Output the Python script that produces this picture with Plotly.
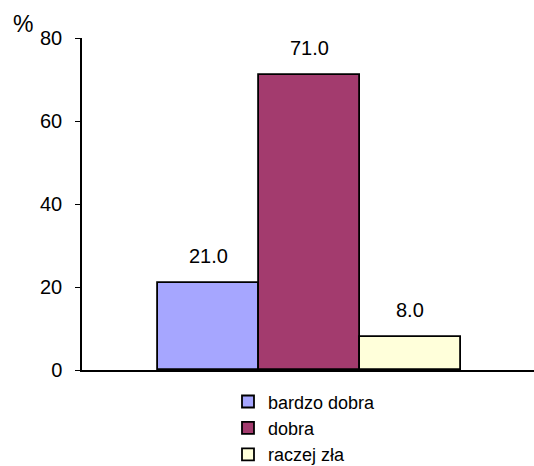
import plotly.graph_objects as go

categories = ["bardzo dobra", "dobra", "raczej zła"]
values = [21.0, 71.0, 8.0]
colors = ["#A6A6FF", "#A33B6E", "#FFFFDA"]
y_ticks = [0, 20, 40, 60, 80]

FONT = "Liberation Sans, Arial"

fig = go.Figure()
for i, (c, v, col) in enumerate(zip(categories, values, colors)):
    fig.add_trace(go.Bar(
        x=[i], y=[v], name=c, width=1,
        marker=dict(color=col, line=dict(color="#000000", width=1.8)),
    ))
    fig.add_annotation(x=i, y=v, text=f"{v:.1f}", showarrow=False,
                       yanchor="middle", yshift=27,
                       font=dict(family=FONT, size=20, color="#000"))

fig.add_annotation(xref="paper", yref="paper", x=-0.157, y=1.042, text="%",
                   showarrow=False, xanchor="left", yanchor="middle",
                   font=dict(family=FONT, size=23, color="#000"))

fig.update_layout(
    width=534, height=466,
    margin=dict(l=82, r=0, t=38, b=96, autoexpand=False),
    paper_bgcolor="white", plot_bgcolor="white",
    font=dict(family=FONT, size=18, color="#000"),
    showlegend=True,
    legend=dict(orientation="v", x=0.323, y=-0.04, xanchor="left", yanchor="top",
                font=dict(size=18), itemwidth=30, tracegroupgap=0,
                bgcolor="rgba(0,0,0,0)"),
    bargap=0,
)
fig.update_xaxes(range=[-1.252, 3.223], showticklabels=False, ticks="",
                 showline=True, linecolor="#000", linewidth=1.5,
                 showgrid=False, zeroline=False, fixedrange=True)
fig.update_yaxes(range=[0, 80], tickvals=y_ticks, ticktext=[str(t) for t in y_ticks],
                 ticks="outside", ticklen=5, tickwidth=1, tickcolor="#000",
                 showline=True, linecolor="#000", linewidth=1.5,
                 showgrid=False, zeroline=False, ticklabelstandoff=9,
                 tickfont=dict(size=20))

fig.write_html("out.html")
